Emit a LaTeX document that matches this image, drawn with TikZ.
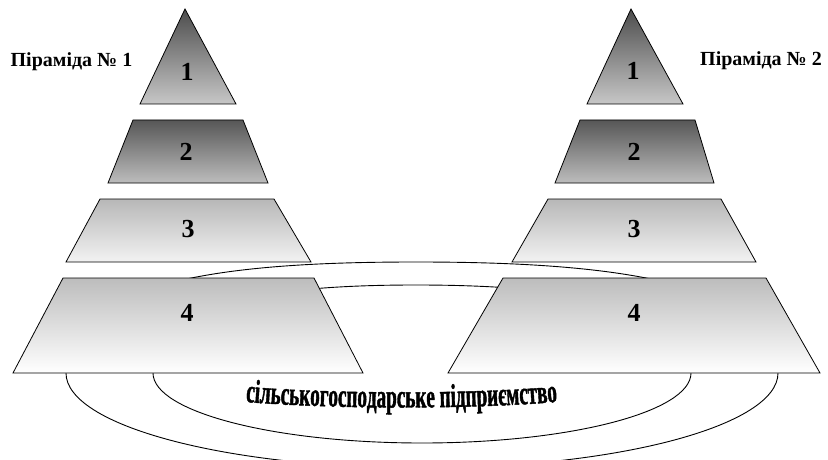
\documentclass[tikz,border=0pt]{standalone}
\usepackage{fontspec}
\setmainfont{Liberation Serif}
\newfontfamily\archfont{Liberation Serif}[FakeStretch=0.58,FakeBold=1.2]
\usetikzlibrary{decorations.text}
\definecolor{ga}{gray}{0.30}
\definecolor{gb}{gray}{0.78}
\definecolor{gc}{gray}{0.34}
\definecolor{gd}{gray}{0.74}
\definecolor{ge}{gray}{0.72}
\definecolor{gf}{gray}{0.95}
\definecolor{gg}{gray}{0.74}
\definecolor{gh}{gray}{1.00}
\tikzset{
  layer/.style={draw=black, line width=0.8pt, line join=miter},
  tierone/.style={layer, top color=ga, bottom color=gb},
  tiertwo/.style={layer, top color=gc, bottom color=gd},
  tierthree/.style={layer, top color=ge, bottom color=gf},
  tierfour/.style={layer, top color=gg, bottom color=gh},
  num/.style={font=\bfseries\fontsize{26}{26}\selectfont, inner sep=0pt},
  pyrlabel/.style={font=\bfseries\fontsize{20}{20}\selectfont, inner sep=0pt},
  loop/.style={draw=black, line width=0.9pt}
}
\begin{document}
\begin{tikzpicture}[x=1pt,y=1pt]
\useasboundingbox (0,0) rectangle (828,459);
\clip (0,0) rectangle (828,459);
% loops (behind pyramids)
\draw[loop] (66,86) .. controls (66,184) and (250,197) .. (416,197)
  .. controls (582,197) and (778,184) .. (778,86)
  arc[start angle=0, end angle=-180, x radius=356, y radius=95];
\draw[loop] (153,86) .. controls (153,159) and (280,174) .. (416,174)
  .. controls (552,174) and (691,159) .. (691,86)
  arc[start angle=0, end angle=-180, x radius=269, y radius=70];
% left pyramid
\path[tierone] (185,450) -- (236,355) -- (140,355) -- cycle;
\path[tiertwo] (133,339) -- (243,339) -- (268,276) -- (108,276) -- cycle;
\path[tierthree] (100,260) -- (274,260) -- (311,197) -- (66,197) -- cycle;
\path[tierfour] (63,181) -- (314,181) -- (363,86) -- (13,86) -- cycle;
% right pyramid
\path[tierone] (631,450) -- (683,355) -- (587,355) -- cycle;
\path[tiertwo] (580,339) -- (695,339) -- (714,276) -- (555,276) -- cycle;
\path[tierthree] (548,260) -- (721,260) -- (756,197) -- (512,197) -- cycle;
\path[tierfour] (503,181) -- (766,181) -- (820,86) -- (448,86) -- cycle;
% numbers
\node[num] (l1) at (187,387) {1};
\node[num] (l2) at (186,307) {2};
\node[num] (l3) at (188,230) {3};
\node[num] (l4) at (187,146) {4};
\node[num] (r1) at (633,388) {1};
\node[num] (r2) at (634,307) {2};
\node[num] (r3) at (634,230) {3};
\node[num] (r4) at (634,146) {4};
% labels
\node[pyrlabel] (p1) at (71.5,397) {Піраміда № 1};
\node[pyrlabel] (p2) at (761,398) {Піраміда № 2};
% arched text
\path[decorate, decoration={text along path, text align=center,
  text={|\archfont\bfseries\fontsize{33}{33}\selectfont|сільськогосподарське підприємство}}]
  (225,59) .. controls (320,49) and (483,49) .. (578,59);
\end{tikzpicture}
\end{document}
